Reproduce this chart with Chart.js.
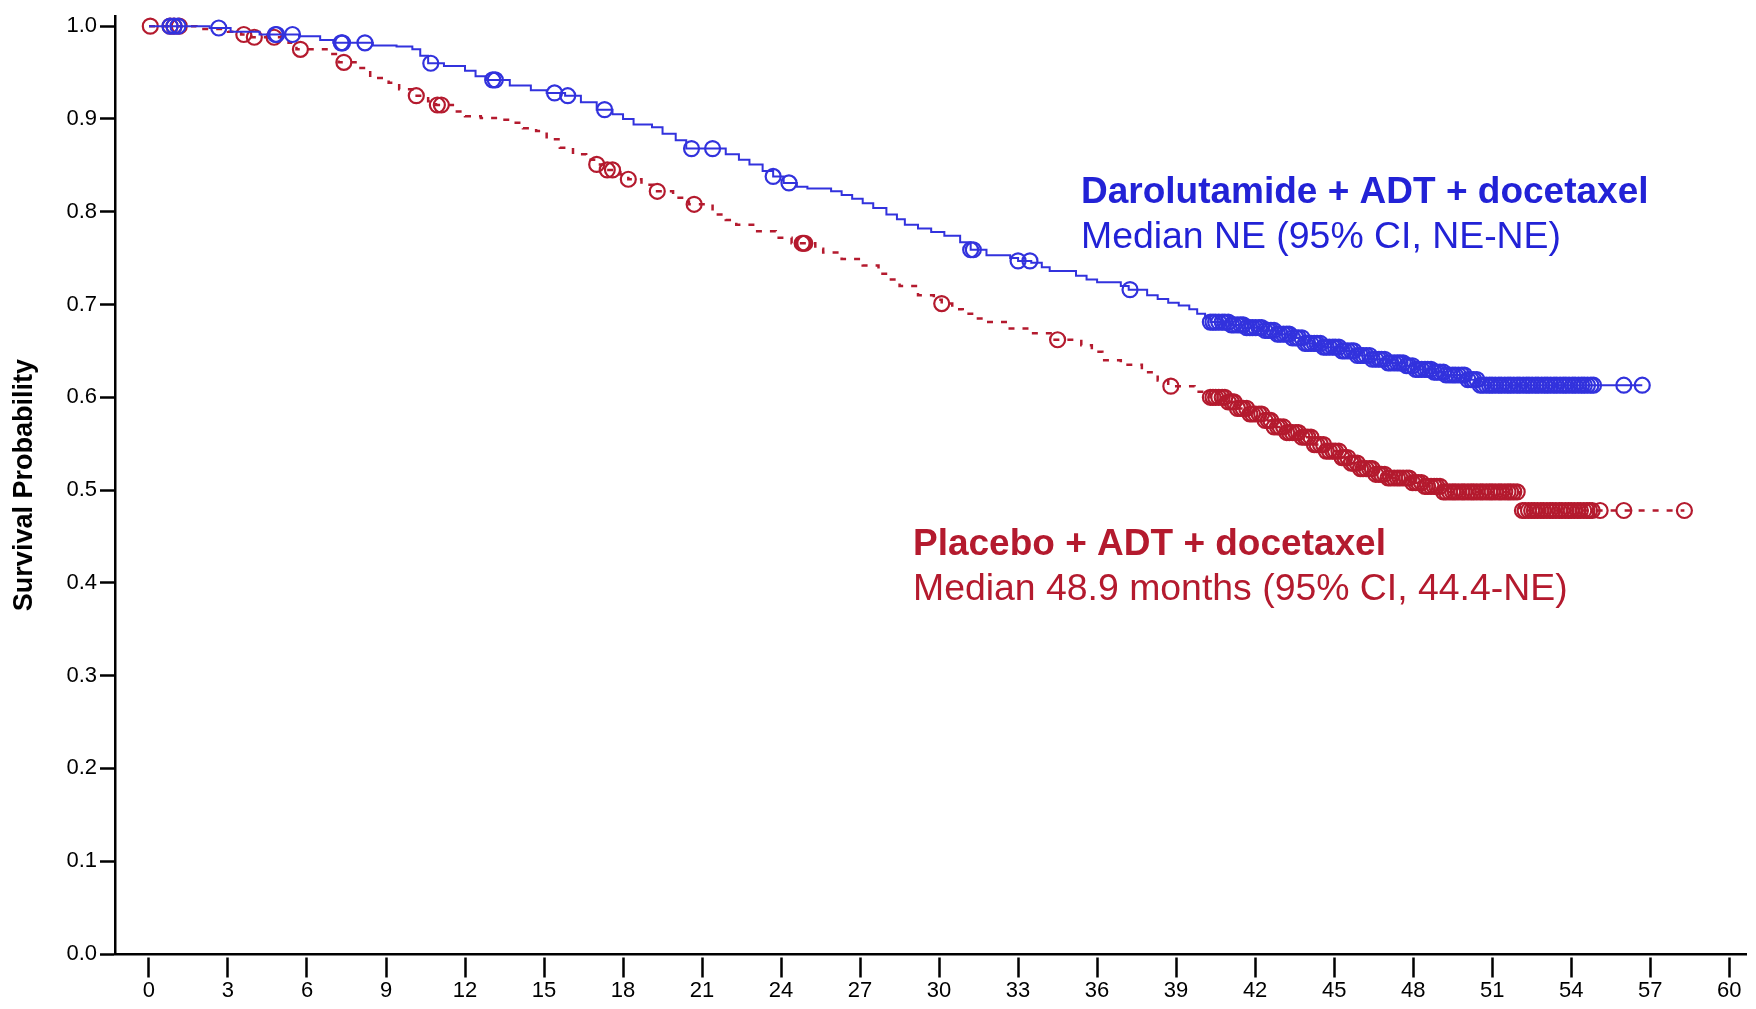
<!DOCTYPE html>
<html>
<head>
<meta charset="utf-8">
<script src="https://cdn.jsdelivr.net/npm/chart.js@4.4.1/dist/chart.umd.min.js"></script>
<style>
  html, body { margin: 0; padding: 0; background: #fff; }
  #wrap { width: 1756px; height: 1009px; }
</style>
</head>
<body>
<div id="wrap"><canvas id="km" width="1756" height="1009"></canvas></div>
<script>
// months and survival (step points)
const blueTimes = [0, 2.3, 3.1, 4.2, 5.7, 6.5, 7.0, 8.5, 9.4, 10.0, 10.3, 10.6, 11.2, 12.0, 12.4, 12.8, 13.7, 14.5, 15.1, 15.8,
  16.4, 17.0, 17.6, 18.0, 18.4, 19.1, 19.5, 20.0, 20.4, 21.9, 22.4, 22.8, 23.3, 23.7, 24.1, 24.6, 25.0, 25.9, 26.3, 26.7,
  27.1, 27.5, 28.0, 28.4, 28.7, 29.2, 29.7, 30.2, 30.8, 31.2, 31.8, 32.7, 33.0, 33.5, 33.9, 34.2, 35.2, 35.6, 36.0, 36.9,
  37.2, 37.9, 38.3, 38.7, 39.1, 39.5, 39.8, 40.1, 40.3, 41.0, 41.6, 42.3, 42.8, 43.4, 43.9, 44.5, 45.2, 45.8, 46.4, 47.0,
  47.7, 48.1, 48.7, 49.2, 50.0, 50.5, 56.7];
const blueSurv = [1.0, 0.998, 0.994, 0.991, 0.989, 0.985, 0.982, 0.979, 0.978, 0.975, 0.968, 0.960, 0.957, 0.952, 0.946, 0.942, 0.936, 0.931, 0.928, 0.925,
  0.918, 0.910, 0.905, 0.900, 0.894, 0.891, 0.884, 0.877, 0.868, 0.862, 0.856, 0.851, 0.844, 0.838, 0.831, 0.827, 0.825, 0.822, 0.818, 0.814,
  0.809, 0.804, 0.797, 0.792, 0.786, 0.782, 0.778, 0.774, 0.767, 0.759, 0.753, 0.750, 0.747, 0.745, 0.740, 0.736, 0.731, 0.727, 0.724, 0.720,
  0.716, 0.710, 0.706, 0.702, 0.699, 0.695, 0.690, 0.686, 0.681, 0.678, 0.675, 0.672, 0.668, 0.664, 0.658, 0.654, 0.650, 0.645, 0.641, 0.637,
  0.634, 0.630, 0.627, 0.624, 0.619, 0.613, 0.613];
const blueCensor = [0.8, 0.95, 1.1, 2.65, 4.8, 4.85, 5.45, 7.3, 7.35, 8.2, 10.7, 13.05, 13.15, 15.4, 15.9, 17.3, 20.6, 21.4, 23.7, 24.3,
  31.2, 31.3, 33.0, 33.45, 37.25,
  40.3, 40.4, 40.5, 40.62, 40.75, 40.85, 40.98, 41.1, 41.2, 41.33, 41.45, 41.55, 41.68, 41.8, 41.9, 42.02, 42.15, 42.25, 42.38, 42.5,
  42.6, 42.72, 42.85, 42.95, 43.08, 43.2, 43.3, 43.42, 43.55, 43.65, 43.78, 43.9, 44.0, 44.12, 44.25, 44.35, 44.48, 44.6, 44.7, 44.82,
  44.95, 45.05, 45.18, 45.3, 45.4, 45.52, 45.65, 45.75, 45.88, 46.0, 46.1, 46.22, 46.35, 46.45, 46.58, 46.7, 46.8, 46.92, 47.05, 47.15,
  47.28, 47.4, 47.5, 47.62, 47.75, 47.85, 47.98, 48.1, 48.2, 48.32, 48.45, 48.55, 48.68, 48.8, 48.9, 49.02, 49.15, 49.25, 49.38, 49.5,
  49.6, 49.72, 49.85, 49.95, 50.08, 50.2, 50.3, 50.42, 50.55, 50.65, 50.78, 50.9, 51.0, 51.12, 51.25, 51.35, 51.48, 51.6, 51.7, 51.82,
  51.95, 52.05, 52.18, 52.3, 52.4, 52.52, 52.65, 52.75, 52.88, 53.0, 53.1, 53.22, 53.35, 53.45, 53.58, 53.7, 53.8, 53.92, 54.05, 54.15,
  54.28, 54.4, 54.5, 54.62, 54.75, 54.85, 56.0, 56.7];

const redTimes = [0, 1.8, 3.0, 3.5, 3.9, 5.3, 5.6, 6.8, 7.2, 7.9, 8.4, 9.1, 9.5, 10.0, 10.6, 10.9, 11.6, 12.0, 12.6, 13.3,
  13.8, 14.2, 14.7, 15.1, 15.6, 16.1, 16.6, 16.9, 17.3, 17.9, 18.2, 18.7, 19.2, 19.9, 20.5, 21.4, 21.9, 22.3, 23.0, 23.8,
  24.4, 25.3, 25.6, 26.3, 27.1, 27.7, 28.1, 28.5, 29.2, 29.8, 30.1, 30.5, 30.9, 31.4, 31.8, 32.6, 33.5, 34.3, 35.4, 35.8,
  36.2, 36.9, 37.7, 38.3, 38.7, 39.7, 40.3, 40.9, 41.3, 41.8, 42.3, 42.7, 43.2, 43.7, 44.2, 44.7, 45.2, 45.6, 46.0, 46.5,
  47.0, 47.9, 48.4, 49.1, 52.05, 58.3];
const redSurv = [1.0, 0.997, 0.994, 0.991, 0.988, 0.982, 0.975, 0.970, 0.961, 0.955, 0.944, 0.939, 0.932, 0.925, 0.919, 0.915, 0.908, 0.903, 0.901, 0.899,
  0.896, 0.890, 0.887, 0.878, 0.869, 0.862, 0.856, 0.851, 0.845, 0.840, 0.835, 0.829, 0.822, 0.815, 0.808, 0.797, 0.791, 0.786, 0.779, 0.772,
  0.766, 0.760, 0.756, 0.749, 0.742, 0.733, 0.727, 0.720, 0.710, 0.705, 0.701, 0.695, 0.690, 0.685, 0.681, 0.674, 0.669, 0.662, 0.656, 0.649,
  0.640, 0.635, 0.627, 0.618, 0.612, 0.606, 0.600, 0.595, 0.588, 0.582, 0.575, 0.568, 0.562, 0.557, 0.549, 0.542, 0.535, 0.529, 0.523, 0.517,
  0.513, 0.508, 0.504, 0.498, 0.478, 0.478];
const redCensor = [0.05, 0.8, 0.95, 1.15, 3.6, 4.0, 4.75, 5.75, 7.4, 10.15, 10.95, 11.1, 17.0, 17.4, 17.6, 18.2, 19.3, 20.7, 24.8, 24.85,
  24.9, 30.1, 34.5, 38.8,
  40.3, 40.4, 40.5, 40.62, 40.75, 40.85, 40.98, 41.1, 41.2, 41.33, 41.45, 41.55, 41.68, 41.8, 41.9, 42.02, 42.15, 42.25, 42.38, 42.5,
  42.6, 42.72, 42.85, 42.95, 43.08, 43.2, 43.3, 43.42, 43.55, 43.65, 43.78, 43.9, 44.0, 44.12, 44.25, 44.35, 44.48, 44.6, 44.7, 44.82,
  44.95, 45.05, 45.18, 45.3, 45.4, 45.52, 45.65, 45.75, 45.88, 46.0, 46.1, 46.22, 46.35, 46.45, 46.58, 46.7, 46.8, 46.92, 47.05, 47.15,
  47.28, 47.4, 47.5, 47.62, 47.75, 47.85, 47.98, 48.1, 48.2, 48.32, 48.45, 48.55, 48.68, 48.8, 48.9, 49.02, 49.15, 49.25, 49.38, 49.5,
  49.6, 49.72, 49.85, 49.95, 50.08, 50.2, 50.3, 50.42, 50.55, 50.65, 50.78, 50.9, 51.0, 51.12, 51.25, 51.35, 51.48, 51.6, 51.7, 51.82,
  51.95, 52.15, 52.25, 52.38, 52.5, 52.6, 52.72, 52.85, 52.95, 53.08, 53.2, 53.3, 53.42, 53.55, 53.65, 53.78, 53.9, 54.0, 54.12, 54.25,
  54.35, 54.48, 54.6, 54.7, 54.8, 55.1, 56.0, 58.3];

const xTicks = [0, 3, 6, 9, 12, 15, 18, 21, 24, 27, 30, 33, 36, 39, 42, 45, 48, 51, 54, 57, 60];
const yTicks = [0.0, 0.1, 0.2, 0.3, 0.4, 0.5, 0.6, 0.7, 0.8, 0.9, 1.0];

const BLUE = '#3232dd';
const BLUE_TXT = '#2222d6';
const RED = '#b41a2e';
const FONT = "'Liberation Sans', Arial, sans-serif";

// survival at time t from the step points (value holds until the next step)
function survAt(times, surv, t) {
  let s = surv[0];
  for (let i = 0; i < times.length; i++) {
    if (times[i] <= t) s = surv[i];
  }
  return s;
}

const bluePts = blueTimes.map((t, i) => ({ x: t, y: blueSurv[i] }));
const redPts = redTimes.map((t, i) => ({ x: t, y: redSurv[i] }));
const blueMarks = blueCensor.map(t => ({ x: t, y: survAt(blueTimes, blueSurv, t) }));
const redMarks = redCensor.map(t => ({ x: t, y: survAt(redTimes, redSurv, t) }));

const labelsPlugin = {
  id: 'armLabels',
  afterDraw(chart) {
    const ctx = chart.ctx;
    ctx.save();
    ctx.textAlign = 'left';
    ctx.textBaseline = 'alphabetic';
    ctx.fillStyle = BLUE_TXT;
    ctx.font = 'bold 37px ' + FONT;
    ctx.fillText('Darolutamide + ADT + docetaxel', 1081, 203);
    ctx.font = '37.4px ' + FONT;
    ctx.fillText('Median NE (95% CI, NE-NE)', 1081, 248);
    ctx.fillStyle = RED;
    ctx.font = 'bold 37px ' + FONT;
    ctx.fillText('Placebo + ADT + docetaxel', 913, 555);
    ctx.font = '37.4px ' + FONT;
    ctx.fillText('Median 48.9 months (95% CI, 44.4-NE)', 913, 600);
    ctx.restore();
  }
};

const ctx = document.getElementById('km').getContext('2d');
const kmChart = new Chart(ctx, {
  type: 'line',
  data: {
    datasets: [
      {
        data: bluePts,
        stepped: true,
        borderColor: BLUE,
        borderWidth: 2,
        pointRadius: 0,
        fill: false
      },
      {
        type: 'scatter',
        data: blueMarks,
        pointStyle: 'circle',
        pointRadius: 7.5,
        borderWidth: 2.2,
        borderColor: BLUE,
        backgroundColor: 'rgba(0,0,0,0)'
      },
      {
        data: redPts,
        stepped: true,
        borderColor: RED,
        borderWidth: 2.5,
        borderDash: [6, 8],
        pointRadius: 0,
        fill: false
      },
      {
        type: 'scatter',
        data: redMarks,
        pointStyle: 'circle',
        pointRadius: 7.5,
        borderWidth: 2.2,
        borderColor: RED,
        backgroundColor: 'rgba(0,0,0,0)'
      }
    ]
  },
  options: {
    responsive: false,
    animation: false,
    layout: { padding: { top: 13, right: 3, left: 0, bottom: 0 } },
    plugins: {
      legend: { display: false },
      tooltip: { enabled: false }
    },
    scales: {
      x: {
        type: 'linear',
        position: 'bottom',
        min: -1.29,
        max: 60.65,
        afterBuildTicks: s => { s.ticks = xTicks.map(v => ({ value: v })); },
        afterFit: s => { s.height = 55; },
        border: { display: true, color: '#000', width: 2.5 },
        grid: {
          drawOnChartArea: false,
          drawTicks: true,
          tickLength: 24,
          tickWidth: 2.5,
          tickColor: '#000',
          tickBorderDash: [0, 2, 20, 100]
        },
        ticks: {
          color: '#000',
          font: { family: FONT, size: 22 },
          padding: 0,
          maxRotation: 0,
          autoSkip: false
        }
      },
      y: {
        type: 'linear',
        min: 0,
        max: 1.0107,
        afterBuildTicks: s => { s.ticks = yTicks.map(v => ({ value: v })); },
        afterFit: s => { s.width = 115; },
        border: { display: true, color: '#000', width: 2.5 },
        grid: {
          drawOnChartArea: false,
          drawTicks: true,
          tickLength: 15,
          tickWidth: 2.5,
          tickColor: '#000'
        },
        ticks: {
          color: '#000',
          font: { family: FONT, size: 22 },
          padding: 3,
          callback: v => v.toFixed(1)
        },
        title: {
          display: true,
          text: 'Survival Probability',
          color: '#000',
          font: { family: FONT, size: 27, weight: 'bold' },
          padding: { top: 8, bottom: 0 }
        }
      }
    }
  },
  plugins: [labelsPlugin]
});
</script>
</body>
</html>
